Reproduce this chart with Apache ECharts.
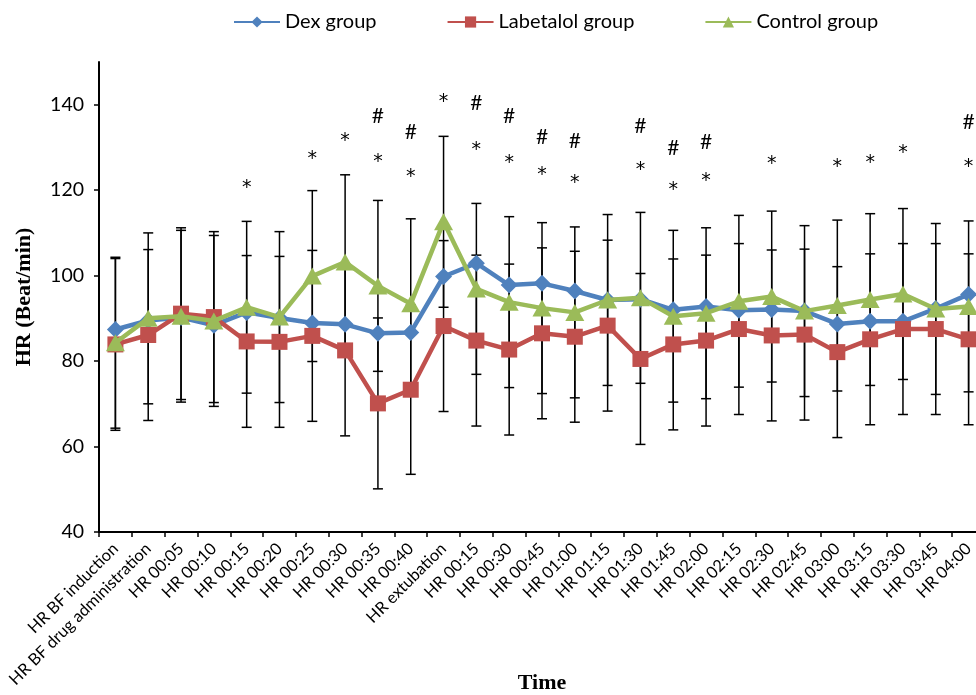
<!DOCTYPE html>
<html>
<head>
<meta charset="utf-8">
<script src="https://cdn.jsdelivr.net/npm/echarts@6/dist/echarts.min.js"></script>
<style>
html,body{margin:0;padding:0;background:#fff;overflow:hidden;}
#chart{width:976px;height:695px;}
</style>
</head>
<body>
<div id="chart"></div>
<script>
const categories = ['HR BF induction','HR BF drug administration','HR 00:05','HR 00:10','HR 00:15','HR 00:20','HR 00:25','HR 00:30','HR 00:35','HR 00:40','HR extubation','HR 00:15','HR 00:30','HR 00:45','HR 01:00','HR 01:15','HR 01:30','HR 01:45','HR 02:00','HR 02:15','HR 02:30','HR 02:45','HR 03:00','HR 03:15','HR 03:30','HR 03:45','HR 04:00'];
const dexHR = [87.4, 89.5, 90.2, 88.4, 91.4, 90.1, 88.9, 88.6, 86.5, 86.7, 99.8, 102.9, 97.8, 98.2, 96.4, 94.3, 94.5, 92.0, 92.8, 91.9, 92.1, 91.7, 88.7, 89.3, 89.3, 92.3, 95.6];
const labetalolHR = [83.9, 86.1, 91.1, 90.3, 84.6, 84.5, 85.9, 82.5, 70.1, 73.3, 88.2, 84.8, 82.7, 86.5, 85.7, 88.3, 80.5, 83.9, 84.8, 87.5, 86.0, 86.2, 82.1, 85.1, 87.5, 87.5, 85.1];
const labetalolSD = [20.1, 20.0, 20.1, 20.0, 20.1, 20.0, 20.0, 20.0, 20.0, 19.8, 20.0, 20.0, 20.0, 20.0, 20.0, 20.0, 20.0, 20.0, 20.0, 20.0, 20.0, 20.0, 20.0, 20.0, 20.0, 20.0, 20.0];
const controlHR = [84.3, 90.0, 90.5, 89.4, 92.6, 90.3, 99.9, 103.2, 97.6, 93.4, 112.6, 96.9, 93.8, 92.4, 91.4, 94.3, 94.8, 90.5, 91.2, 94.0, 95.1, 91.7, 93.0, 94.4, 95.7, 92.2, 92.8];
const controlSD = [20.0, 20.0, 20.1, 20.0, 20.1, 20.0, 20.0, 20.4, 20.0, 19.9, 20.0, 20.0, 20.0, 20.0, 20.0, 20.0, 20.0, 20.1, 20.0, 20.1, 20.0, 20.0, 20.0, 20.1, 20.0, 20.0, 20.0];
const starIdx = [4, 6, 7, 8, 9, 10, 11, 12, 13, 14, 16, 17, 18, 20, 22, 23, 24, 26];
const starVal = [121.3, 127.9, 132.1, 127.3, 123.8, 141.3, 130.0, 127.1, 124.2, 122.4, 125.5, 120.7, 122.9, 126.8, 126.1, 127.1, 129.3, 126.0];
const hashIdx = [8, 9, 11, 12, 13, 14, 16, 17, 18, 26];
const hashVal = [137.4, 133.5, 140.3, 137.4, 132.4, 131.4, 134.9, 129.9, 131.2, 135.9];
const yTicks = [40, 60, 80, 100, 120, 140];

const SANS = 'Lato';
const SERIF = '"Liberation Serif", "DejaVu Serif", serif';

function errData(mean, sd) {
  return mean.map((m, i) => [i, +(m - sd[i]).toFixed(2), +(m + sd[i]).toFixed(2)]);
}
function errRender(params, api) {
  const i = api.value(0);
  const lo = api.coord([i, api.value(1)]);
  const hi = api.coord([i, api.value(2)]);
  const w = 5;
  const st = { stroke: '#000', lineWidth: 1.5 };
  return { type: 'group', children: [
    { type: 'line', shape: { x1: lo[0], y1: lo[1], x2: hi[0], y2: hi[1] }, style: st },
    { type: 'line', shape: { x1: lo[0] - w, y1: lo[1], x2: lo[0] + w, y2: lo[1] }, style: st },
    { type: 'line', shape: { x1: hi[0] - w, y1: hi[1], x2: hi[0] + w, y2: hi[1] }, style: st }
  ]};
}
function textRender(txt, font, dy) {
  return function (params, api) {
    const p = api.coord([api.value(0), api.value(1)]);
    return { type: 'text', x: p[0], y: p[1] + dy, style: { text: txt, fill: '#000', font: font, align: 'center', verticalAlign: 'middle' } };
  };
}

const chart = echarts.init(document.getElementById('chart'), null, { renderer: 'canvas' });
chart.setOption({
  animation: false,
  backgroundColor: '#fff',
  legend: {
    data: ['Dex group', 'Labetalol group', 'Control group'],
    left: 228, top: 7,
    itemWidth: 46, itemHeight: 14, itemGap: 70,
    textStyle: { fontFamily: SANS, fontSize: 20, color: '#000' }
  },
  grid: { left: 99, right: -9, top: 62, bottom: 163, containLabel: false, outerBoundsMode: 'none' },
  xAxis: {
    type: 'category',
    data: categories,
    boundaryGap: true,
    name: 'Time',
    nameLocation: 'middle',
    nameGap: 140,
    nameMoveOverlap: false,
    nameTextStyle: { fontFamily: SERIF, fontWeight: 'bold', fontSize: 22, color: '#000' },
    axisLine: { lineStyle: { color: '#000', width: 2 } },
    axisTick: { show: true, interval: 0, length: 5, lineStyle: { color: '#000', width: 1.5 } },
    axisLabel: { interval: 0, rotate: 45, margin: 14, fontFamily: SANS, fontSize: 16.5, color: '#000' },
    splitLine: { show: false }
  },
  yAxis: {
    type: 'value',
    min: 40, max: 150, interval: 20,
    name: 'HR (Beat/min)',
    nameLocation: 'middle',
    nameRotate: 90,
    nameGap: 64,
    nameMoveOverlap: false,
    nameTextStyle: { fontFamily: SERIF, fontWeight: 'bold', fontSize: 22, color: '#000' },
    axisLine: { show: true, lineStyle: { color: '#000', width: 2 } },
    axisTick: { show: true, length: 5, customValues: yTicks, lineStyle: { color: '#000', width: 1.5 } },
    axisLabel: { customValues: yTicks, margin: 15, fontFamily: SANS, fontSize: 19.5, color: '#000' },
    splitLine: { show: false }
  },
  series: [
    { name: 'labErr', type: 'custom', renderItem: errRender, data: errData(labetalolHR, labetalolSD), encode: { x: 0, y: [1, 2] }, z: 1, silent: true },
    { name: 'ctrlErr', type: 'custom', renderItem: errRender, data: errData(controlHR, controlSD), encode: { x: 0, y: [1, 2] }, z: 1, silent: true },
    { name: 'Dex group', type: 'line', data: dexHR, symbol: 'diamond', symbolSize: 17,
      lineStyle: { color: '#4F81BD', width: 4.5 }, itemStyle: { color: '#4F81BD' }, z: 3 },
    { name: 'Labetalol group', type: 'line', data: labetalolHR, symbol: 'rect', symbolSize: 16,
      lineStyle: { color: '#C0504D', width: 4.5 }, itemStyle: { color: '#C0504D' }, z: 4 },
    { name: 'Control group', type: 'line', data: controlHR, symbol: 'triangle', symbolSize: [19, 17],
      lineStyle: { color: '#9BBB59', width: 4.5 }, itemStyle: { color: '#9BBB59' }, z: 5 },
    { name: 'stars', type: 'custom', renderItem: textRender('*', '19px "DejaVu Sans"', 3), data: starIdx.map((c, k) => [c, starVal[k]]), encode: { x: 0, y: 1 }, z: 6, silent: true },
    { name: 'hashes', type: 'custom', renderItem: textRender('#', '21px ' + SANS, 0), data: hashIdx.map((c, k) => [c, hashVal[k]]), encode: { x: 0, y: 1 }, z: 6, silent: true }
  ]
});
</script>
</body>
</html>
